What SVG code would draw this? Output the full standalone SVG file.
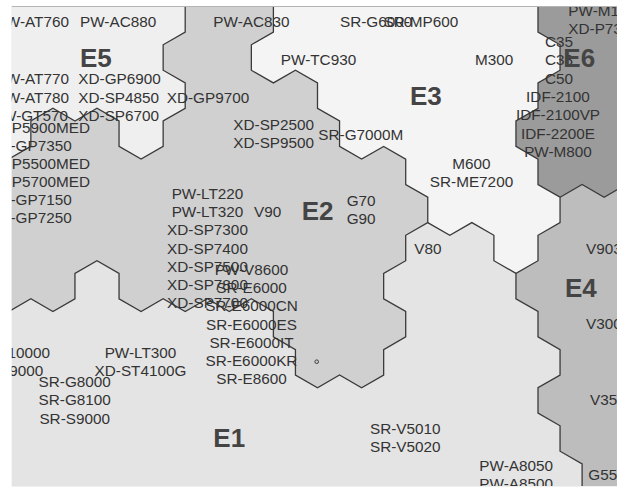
<svg xmlns="http://www.w3.org/2000/svg" width="617" height="489" viewBox="0 0 617 489">
<defs>
<clipPath id="map"><rect x="11.7" y="6.7" width="605.3" height="479.3"/></clipPath>
<style>
.b{fill:none;stroke:#3a3a3a;stroke-width:1.3}
text{font-family:"Liberation Sans",Arial,sans-serif;font-size:15.3px;fill:#333}
.big{font-size:26px;font-weight:bold;fill:#444}
.m{text-anchor:middle}
.e{text-anchor:end}
</style>
</defs>
<rect width="617" height="489" fill="#ffffff"/>
<g clip-path="url(#map)">
<g id="E1"><rect x="0" y="0" width="617" height="489" fill="#e4e4e4"/></g>
<g id="E5"><polygon fill="#efefef" points="0,6.7 185.2,6.7 185.2,32.1 163.15,44.8 163.15,70.2 185.2,82.9 185.2,108.3 163.15,121 163.15,146.4 141.1,159.1 119.05,146.4 119.05,121 97,108.3 74.95,121 52.9,108.3 30.85,121 30.85,146.4 8.8,159.1 0,164.2"/></g>
<g id="E2"><polygon fill="#d0d0d0" points="185.2,6.7 273.4,6.7 273.4,32.1 251.35,44.8 251.35,70.2 273.4,82.9 295.45,70.2 317.5,82.9 317.5,108.3 339.55,121 339.55,146.4 361.6,159.1 383.65,146.4 405.7,159.1 405.7,184.5 427.75,197.2 427.75,222.6 405.7,235.3 405.7,260.7 383.65,273.4 383.65,298.8 405.7,311.5 405.7,336.9 383.65,349.6 383.65,375 361.6,387.7 339.55,375 317.5,387.7 295.45,375 295.45,349.6 273.4,336.9 273.4,311.5 251.35,298.8 229.3,311.5 207.25,298.8 185.2,311.5 163.15,298.8 141.1,311.5 119.05,298.8 119.05,273.4 97,260.7 74.95,273.4 74.95,298.8 52.9,311.5 30.85,298.8 8.8,311.5 0,316.6 0,164.2 8.8,159.1 30.85,146.4 30.85,121 52.9,108.3 74.95,121 97,108.3 119.05,121 119.05,146.4 141.1,159.1 163.15,146.4 163.15,121 185.2,108.3 185.2,82.9 163.15,70.2 163.15,44.8 185.2,32.1"/></g>
<g id="E3"><polygon fill="#f4f4f4" points="273.4,6.7 538,6.7 538,32.1 560.05,44.8 560.05,70.2 538,82.9 538,108.3 515.95,121 515.95,146.4 538,159.1 538,184.5 560.05,197.2 560.05,222.6 538,235.3 538,260.7 515.95,273.4 493.9,260.7 493.9,235.3 471.85,222.6 449.8,235.3 427.75,222.6 427.75,197.2 405.7,184.5 405.7,159.1 383.65,146.4 361.6,159.1 339.55,146.4 339.55,121 317.5,108.3 317.5,82.9 295.45,70.2 273.4,82.9 251.35,70.2 251.35,44.8 273.4,32.1"/></g>
<g id="E6"><polygon fill="#9b9b9b" points="538,6.7 620,6.7 620,188.1 604.15,197.2 582.1,184.5 560.05,197.2 538,184.5 538,159.1 515.95,146.4 515.95,121 538,108.3 538,82.9 560.05,70.2 560.05,44.8 538,32.1"/></g>
<g id="E4"><polygon fill="#bdbdbd" points="560.05,197.2 582.1,184.5 604.15,197.2 620,188.1 620,490 582.1,490 582.1,463.9 560.05,451.2 560.05,425.8 538,413.1 538,387.7 560.05,375 560.05,349.6 538,336.9 538,311.5 515.95,298.8 515.95,273.4 538,260.7 538,235.3 560.05,222.6"/></g>
<g id="boundaries">
<polyline class="b" points="185.2,6.7 185.2,32.1 163.15,44.8 163.15,70.2 185.2,82.9 185.2,108.3 163.15,121 163.15,146.4 141.1,159.1 119.05,146.4 119.05,121 97,108.3 74.95,121 52.9,108.3 30.85,121 30.85,146.4 8.8,159.1 0,164.2"/>
<polyline class="b" points="273.4,6.7 273.4,32.1 251.35,44.8 251.35,70.2 273.4,82.9 295.45,70.2 317.5,82.9 317.5,108.3 339.55,121 339.55,146.4 361.6,159.1 383.65,146.4 405.7,159.1 405.7,184.5 427.75,197.2 427.75,222.6 405.7,235.3 405.7,260.7 383.65,273.4 383.65,298.8 405.7,311.5 405.7,336.9 383.65,349.6 383.65,375 361.6,387.7 339.55,375 317.5,387.7 295.45,375 295.45,349.6 273.4,336.9 273.4,311.5 251.35,298.8 229.3,311.5 207.25,298.8 185.2,311.5 163.15,298.8 141.1,311.5 119.05,298.8 119.05,273.4 97,260.7 74.95,273.4 74.95,298.8 52.9,311.5 30.85,298.8 8.8,311.5 0,316.6"/>
<polyline class="b" points="427.75,222.6 449.8,235.3 471.85,222.6 493.9,235.3 493.9,260.7 515.95,273.4"/>
<polyline class="b" points="538,6.7 538,32.1 560.05,44.8 560.05,70.2 538,82.9 538,108.3 515.95,121 515.95,146.4 538,159.1 538,184.5 560.05,197.2 560.05,222.6 538,235.3 538,260.7 515.95,273.4 515.95,298.8 538,311.5 538,336.9 560.05,349.6 560.05,375 538,387.7 538,413.1 560.05,425.8 560.05,451.2 582.1,463.9 582.1,490"/>
<polyline class="b" points="560.05,197.2 582.1,184.5 604.15,197.2 626.2,184.5"/>
<circle cx="316.7" cy="361.7" r="1.8" fill="none" stroke="#3a3a3a" stroke-width="1"/>
</g>
<g id="labels-E5">
<text class="e" x="69" y="27">W-AT760</text>
<text x="80" y="27">PW-AC880</text>
<text class="big" x="80" y="66.7">E5</text>
<text class="e" x="69" y="84.3">W-AT770</text>
<text x="78.3" y="84.3">XD-GP6900</text>
<text class="e" x="69" y="102.7">W-AT780</text>
<text x="78.3" y="102.7">XD-SP4850</text>
<text class="e" x="68" y="121">W-GT570</text>
<text x="78.3" y="121">XD-SP6700</text>
</g>
<g id="labels-E2">
<text x="213.3" y="27">PW-AC830</text>
<text x="166.7" y="102.7">XD-GP9700</text>
<text x="233.3" y="129.5">XD-SP2500</text>
<text x="233.3" y="148">XD-SP9500</text>
<text x="318.3" y="140">SR-G7000M</text>
<text class="e" x="90" y="132.5">P5900MED</text>
<text class="e" x="71.7" y="150.5">-GP7350</text>
<text class="e" x="90" y="168.5">P5500MED</text>
<text class="e" x="90" y="186.5">P5700MED</text>
<text class="e" x="71.7" y="204.5">-GP7150</text>
<text class="e" x="71.7" y="222.5">-GP7250</text>
<text class="m" x="207.5" y="198.6">PW-LT220</text>
<text class="m" x="207.5" y="216.9">PW-LT320</text>
<text class="m" x="207.5" y="235.2">XD-SP7300</text>
<text class="m" x="207.5" y="253.5">XD-SP7400</text>
<text class="m" x="207.5" y="271.8">XD-SP7500</text>
<text class="m" x="207.5" y="290.1">XD-SP7800</text>
<text class="m" x="207.5" y="308.4">XD-SP7700</text>
<text class="m" x="251.5" y="274.6">PW-V8600</text>
<text class="m" x="251.5" y="292.9">SR-E6000</text>
<text class="m" x="251.5" y="311.2">SR-E6000CN</text>
<text class="m" x="251.5" y="329.5">SR-E6000ES</text>
<text class="m" x="251.5" y="347.8">SR-E6000IT</text>
<text class="m" x="251.5" y="366.1">SR-E6000KR</text>
<text class="m" x="251.5" y="384.4">SR-E8600</text>
<text x="254" y="217">V90</text>
<text class="big" x="301.7" y="220">E2</text>
<text x="346.7" y="206.3">G70</text>
<text x="346.7" y="224.3">G90</text>
</g>
<g id="labels-E3">
<text x="340" y="27">SR-G6000</text>
<text class="e" x="458.3" y="27">SR-MP600</text>
<text x="280.8" y="65">PW-TC930</text>
<text x="475" y="65">M300</text>
<text class="big" x="410" y="105">E3</text>
<text class="m" x="471.5" y="168.6">M600</text>
<text class="m" x="471.5" y="187">SR-ME7200</text>
<text class="m" x="559" y="47">C35</text>
<text class="m" x="559" y="65.3">C38</text>
<text class="m" x="559" y="83.6">C50</text>
<text class="m" x="558" y="101.9">IDF-2100</text>
<text class="m" x="558" y="120.2">IDF-2100VP</text>
<text class="m" x="558" y="138.5">IDF-2200E</text>
<text class="m" x="558" y="156.8">PW-M800</text>
</g>
<g id="labels-E6">
<text x="568.3" y="16">PW-M1</text>
<text x="568.3" y="34">XD-P73</text>
<text class="big" x="563.3" y="66.7">E6</text>
</g>
<g id="labels-E4">
<text x="586" y="253.6">V903</text>
<text class="big" x="565" y="296.7">E4</text>
<text x="586" y="328.6">V300</text>
<text x="590" y="404.6">V35</text>
<text x="588.3" y="480.3">G55</text>
</g>
<g id="labels-E1">
<text x="414.3" y="253.6">V80</text>
<text class="e" x="50" y="358">10000</text>
<text class="e" x="43.3" y="375.5">9000</text>
<text class="m" x="140.5" y="358">PW-LT300</text>
<text class="m" x="140.5" y="376">XD-ST4100G</text>
<text class="m" x="74.7" y="387">SR-G8000</text>
<text class="m" x="74.7" y="405.3">SR-G8100</text>
<text class="m" x="74.7" y="423.6">SR-S9000</text>
<text class="big" x="213.3" y="446.7">E1</text>
<text x="370" y="433.6">SR-V5010</text>
<text x="370" y="452">SR-V5020</text>
<text x="479.3" y="471">PW-A8050</text>
<text x="479.3" y="489.3">PW-A8500</text>
</g>
</g>
<line x1="11.7" y1="6.5" x2="617" y2="6.5" stroke="#b4b4b4" stroke-width="1"/>
<line x1="11.7" y1="486.5" x2="617" y2="486.5" stroke="#f0f0f0" stroke-width="1"/>
</svg>
